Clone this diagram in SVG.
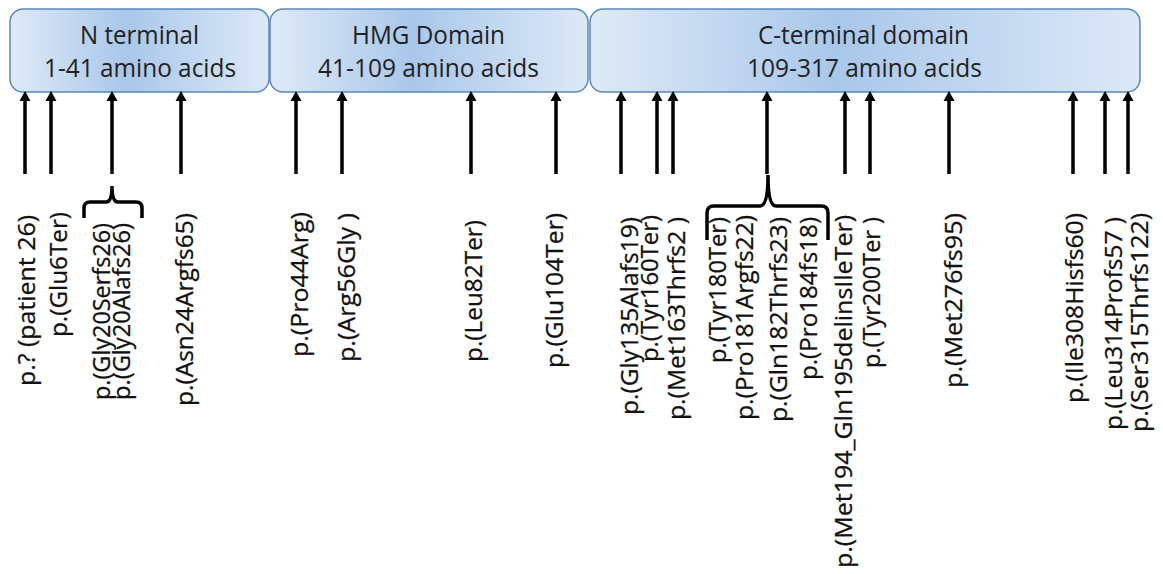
<svg xmlns="http://www.w3.org/2000/svg" width="1163" height="574" viewBox="0 0 1163 574">
<style>
.box{stroke:#5a88bd;stroke-width:1.5;fill:url(#g)}
.bt{font-family:"Open Sans","Noto Sans",sans-serif;font-size:25px;fill:#222;text-anchor:middle}
.lb{font-family:"Open Sans","Noto Sans",sans-serif;font-size:24px;fill:#111;stroke:#111;stroke-width:0.3}
.sh{stroke:#000;stroke-width:3.5;fill:none}
.br{stroke:#000;stroke-width:3.5;fill:none;stroke-linejoin:miter}
</style>
<defs>
<linearGradient id="g" x1="0" y1="0" x2="1" y2="0">
<stop offset="0" stop-color="#dfeaf7"/>
<stop offset="0.45" stop-color="#a9c7ea"/>
<stop offset="1" stop-color="#dde9f7"/>
</linearGradient>
</defs>
<g id="n-terminal">
<rect class="box" x="10" y="9" width="259" height="83" rx="13"/>
<text class="bt" x="139.5" y="44" textLength="119" lengthAdjust="spacingAndGlyphs">N terminal</text>
<text class="bt" x="140" y="77" textLength="192" lengthAdjust="spacingAndGlyphs">1-41 amino acids</text>
</g>
<g id="hmg-domain">
<rect class="box" x="270" y="9" width="318" height="83" rx="13"/>
<text class="bt" x="428.5" y="44" textLength="153" lengthAdjust="spacingAndGlyphs">HMG Domain</text>
<text class="bt" x="428.5" y="77" textLength="221" lengthAdjust="spacingAndGlyphs">41-109 amino acids</text>
</g>
<g id="c-terminal">
<rect class="box" x="590" y="9" width="550" height="83" rx="13"/>
<text class="bt" x="863.5" y="44" textLength="211" lengthAdjust="spacingAndGlyphs">C-terminal domain</text>
<text class="bt" x="864.5" y="77" textLength="235" lengthAdjust="spacingAndGlyphs">109-317 amino acids</text>
</g>
<g id="connectors">
<path class="sh" d="M25,174V99M51,174V99M112,174V99M181,174V99M296,174V99M342,174V99M471,174V99M556,174V99M621,174V99M657,174V99M673,174V99M767,174V99M845,174V99M870,174V99M949,174V99M1073,174V99M1105,174V99M1128,174V99"/>
<g fill="#000">
<path d="M19.5,101L25,91L30.5,101Z M45.5,101L51,91L56.5,101Z M106.5,101L112,91L117.5,101Z M175.5,101L181,91L186.5,101Z M290.5,101L296,91L301.5,101Z M336.5,101L342,91L347.5,101Z M465.5,101L471,91L476.5,101Z M550.5,101L556,91L561.5,101Z M615.5,101L621,91L626.5,101Z M651.5,101L657,91L662.5,101Z M667.5,101L673,91L678.5,101Z M761.5,101L767,91L772.5,101Z M839.5,101L845,91L850.5,101Z M864.5,101L870,91L875.5,101Z M943.5,101L949,91L954.5,101Z M1067.5,101L1073,91L1078.5,101Z M1099.5,101L1105,91L1110.5,101Z M1122.5,101L1128,91L1133.5,101Z"/>
</g>
<path class="br" d="M84,218V208Q84,202 90,202H106Q112,202 112,186Q112,202 118,202H136Q142,202 142,208V218"/>
<path class="br" d="M707,240V213Q707,206 714,206H760Q768,206 768,175Q768,206 776,206H821Q828,206 828,213V240"/>
</g>
<g id="labels">
<text class="lb" transform="translate(35,386) rotate(-90)" textLength="171" lengthAdjust="spacingAndGlyphs">p.? (patient 26)</text>
<text class="lb" transform="translate(67,337) rotate(-90)" textLength="125" lengthAdjust="spacingAndGlyphs">p.(Glu6Ter)</text>
<text class="lb" transform="translate(110,400) rotate(-90)" textLength="177" lengthAdjust="spacingAndGlyphs">p.(Gly20Serfs26)</text>
<text class="lb" transform="translate(130,400) rotate(-90)" textLength="177" lengthAdjust="spacingAndGlyphs">p.(Gly20Alafs26)</text>
<text class="lb" transform="translate(193,406) rotate(-90)" textLength="193" lengthAdjust="spacingAndGlyphs">p.(Asn24Argfs65)</text>
<text class="lb" transform="translate(308,357) rotate(-90)" textLength="145" lengthAdjust="spacingAndGlyphs">p.(Pro44Arg)</text>
<text class="lb" transform="translate(355,362) rotate(-90)" textLength="149" lengthAdjust="spacingAndGlyphs">p.(Arg56Gly )</text>
<text class="lb" transform="translate(482,362) rotate(-90)" textLength="142" lengthAdjust="spacingAndGlyphs">p.(Leu82Ter)</text>
<text class="lb" transform="translate(563,368) rotate(-90)" textLength="155" lengthAdjust="spacingAndGlyphs">p.(Glu104Ter)</text>
<text class="lb" transform="translate(638,415) rotate(-90)" textLength="198" lengthAdjust="spacingAndGlyphs">p.(Gly135Alafs19)</text>
<text class="lb" transform="translate(658,362) rotate(-90)" textLength="147" lengthAdjust="spacingAndGlyphs">p.(Tyr160Ter)</text>
<text class="lb" transform="translate(685,420) rotate(-90)" textLength="203" lengthAdjust="spacingAndGlyphs">p.(Met163Thrfs2 )</text>
<text class="lb" transform="translate(726,363) rotate(-90)" textLength="146" lengthAdjust="spacingAndGlyphs">p.(Tyr180Ter)</text>
<text class="lb" transform="translate(753,420) rotate(-90)" textLength="205" lengthAdjust="spacingAndGlyphs">p.(Pro181Argfs22)</text>
<text class="lb" transform="translate(787,422) rotate(-90)" textLength="205" lengthAdjust="spacingAndGlyphs">p.(Gln182Thrfs23)</text>
<text class="lb" transform="translate(817,380) rotate(-90)" textLength="163" lengthAdjust="spacingAndGlyphs">p.(Pro184fs18)</text>
<text class="lb" transform="translate(852,568) rotate(-90)" textLength="353" lengthAdjust="spacingAndGlyphs">p.(Met194_Gln195delinsIleTer)</text>
<text class="lb" transform="translate(880,368) rotate(-90)" textLength="151" lengthAdjust="spacingAndGlyphs">p.(Tyr200Ter )</text>
<text class="lb" transform="translate(962,388) rotate(-90)" textLength="175" lengthAdjust="spacingAndGlyphs">p.(Met276fs95)</text>
<text class="lb" transform="translate(1083,403) rotate(-90)" textLength="190" lengthAdjust="spacingAndGlyphs">p.(Ile308Hisfs60)</text>
<text class="lb" transform="translate(1122,430) rotate(-90)" textLength="213" lengthAdjust="spacingAndGlyphs">p.(Leu314Profs57 )</text>
<text class="lb" transform="translate(1148,432) rotate(-90)" textLength="219" lengthAdjust="spacingAndGlyphs">p.(Ser315Thrfs122)</text>
</g>
</svg>
